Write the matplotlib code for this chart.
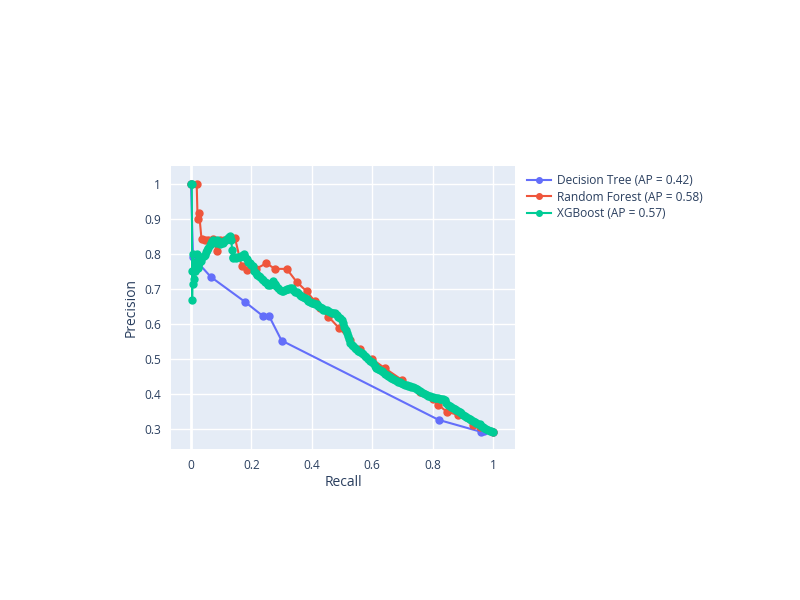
import matplotlib.pyplot as plt

# precision-recall curves
dt_recall = [0, 0.007, 0.066, 0.179, 0.238, 0.258, 0.30, 0.82, 0.96, 0.97, 1.0]
dt_precision = [1.0, 0.79, 0.734, 0.663, 0.623, 0.624, 0.553, 0.327, 0.293, 0.294, 0.293]

rf_recall = [0, 0.019, 0.022, 0.027, 0.035, 0.046, 0.055, 0.074, 0.085, 0.096, 0.11, 0.13,
             0.146, 0.168, 0.184, 0.217, 0.25, 0.278, 0.317, 0.35, 0.383, 0.41, 0.427, 0.455,
             0.491, 0.527, 0.56, 0.6, 0.642, 0.7, 0.76, 0.8, 0.819, 0.847, 0.885, 0.933,
             0.957, 1.0]
rf_precision = [1.0, 1.0, 0.9, 0.917, 0.842, 0.84, 0.838, 0.842, 0.808, 0.84, 0.84, 0.843,
                0.844, 0.764, 0.754, 0.758, 0.773, 0.757, 0.757, 0.72, 0.693, 0.665, 0.645,
                0.621, 0.588, 0.555, 0.53, 0.5, 0.474, 0.44, 0.405, 0.385, 0.37, 0.35, 0.341,
                0.313, 0.308, 0.293]

xgb_recall = [0, 0.003, 0.004, 0.005, 0.006, 0.008, 0.010, 0.012, 0.013, 0.015, 0.018, 0.020,
              0.022, 0.024, 0.027, 0.030, 0.034, 0.038, 0.042, 0.046, 0.050, 0.054, 0.057,
              0.062, 0.066, 0.070, 0.074, 0.078, 0.082, 0.086, 0.090, 0.095, 0.100, 0.104,
              0.107, 0.111, 0.115, 0.119, 0.123, 0.127, 0.131, 0.134, 0.136, 0.138, 0.140,
              0.145, 0.150, 0.156, 0.161, 0.166, 0.171, 0.176, 0.180, 0.185, 0.190, 0.195,
              0.200, 0.206, 0.210, 0.214, 0.218, 0.224, 0.230, 0.235, 0.240, 0.246, 0.251,
              0.256, 0.262, 0.267, 0.273, 0.278, 0.283, 0.289, 0.295, 0.300, 0.306, 0.311,
              0.317, 0.322, 0.328, 0.333, 0.339, 0.344, 0.350, 0.355, 0.361, 0.366, 0.372,
              0.378, 0.383, 0.389, 0.394, 0.400, 0.405, 0.411, 0.416, 0.422, 0.427, 0.433,
              0.438, 0.444, 0.449, 0.455, 0.460, 0.466, 0.471, 0.477, 0.482, 0.488, 0.493,
              0.499, 0.504, 0.508, 0.512, 0.516, 0.520, 0.524, 0.528, 0.532, 0.537, 0.543,
              0.548, 0.554, 0.559, 0.565, 0.570, 0.576, 0.581, 0.587, 0.592, 0.598, 0.603,
              0.609, 0.614, 0.620, 0.626, 0.631, 0.637, 0.642, 0.648, 0.653, 0.659, 0.664,
              0.670, 0.675, 0.681, 0.686, 0.692, 0.697, 0.703, 0.708, 0.714, 0.719, 0.725,
              0.730, 0.736, 0.741, 0.747, 0.752, 0.758, 0.763, 0.769, 0.774, 0.780, 0.785,
              0.791, 0.796, 0.802, 0.807, 0.813, 0.818, 0.824, 0.829, 0.835, 0.840, 0.846,
              0.851, 0.857, 0.862, 0.868, 0.873, 0.879, 0.884, 0.890, 0.895, 0.901, 0.906,
              0.912, 0.917, 0.923, 0.928, 0.934, 0.939, 0.945, 0.950, 0.956, 0.961, 0.967,
              0.972, 0.978, 0.983, 0.989, 0.994, 1.0]
xgb_precision = [1.0, 1.0, 0.667, 0.75, 0.8, 0.714, 0.727, 0.75, 0.769, 0.75, 0.778, 0.8,
                 0.762, 0.759, 0.773, 0.787, 0.78, 0.79, 0.794, 0.797, 0.806, 0.81, 0.816,
                 0.826, 0.83, 0.836, 0.84, 0.835, 0.832, 0.838, 0.835, 0.828, 0.83, 0.834,
                 0.83, 0.836, 0.84, 0.842, 0.845, 0.848, 0.852, 0.84, 0.81, 0.79, 0.787,
                 0.79, 0.788, 0.792, 0.79, 0.795, 0.797, 0.799, 0.792, 0.784, 0.778, 0.774,
                 0.768, 0.764, 0.752, 0.746, 0.74, 0.737, 0.733, 0.729, 0.726, 0.72, 0.716,
                 0.712, 0.711, 0.718, 0.723, 0.715, 0.708, 0.702, 0.697, 0.695, 0.693, 0.697,
                 0.699, 0.701, 0.703, 0.702, 0.697, 0.692, 0.69, 0.688, 0.684, 0.681, 0.678,
                 0.674, 0.67, 0.665, 0.662, 0.661, 0.659, 0.657, 0.656, 0.652, 0.649, 0.645,
                 0.641, 0.641, 0.64, 0.637, 0.634, 0.632, 0.631, 0.63, 0.626, 0.621, 0.617,
                 0.612, 0.602, 0.592, 0.583, 0.575, 0.566, 0.556, 0.545, 0.54, 0.536, 0.532,
                 0.528, 0.524, 0.52, 0.517, 0.514, 0.51, 0.507, 0.501, 0.496, 0.492, 0.488,
                 0.481, 0.475, 0.473, 0.47, 0.466, 0.463, 0.459, 0.456, 0.452, 0.449, 0.446,
                 0.443, 0.44, 0.438, 0.436, 0.434, 0.431, 0.429, 0.427, 0.425, 0.424, 0.423,
                 0.422, 0.421, 0.418, 0.415, 0.412, 0.409, 0.406, 0.403, 0.401, 0.398, 0.396,
                 0.394, 0.392, 0.391, 0.39, 0.389, 0.388, 0.387, 0.386, 0.386, 0.383, 0.376,
                 0.37, 0.366, 0.363, 0.361, 0.358, 0.355, 0.352, 0.349, 0.346, 0.342, 0.339,
                 0.336, 0.333, 0.33, 0.327, 0.324, 0.321, 0.318, 0.316, 0.314, 0.31, 0.307,
                 0.304, 0.301, 0.298, 0.296, 0.294, 0.293]

labels = ["Decision Tree (AP = 0.42)", "Random Forest (AP = 0.58)", "XGBoost (AP = 0.57)"]
colors = ["#636efa", "#EF553B", "#00cc96"]

xticks = [0, 0.2, 0.4, 0.6, 0.8, 1.0]
xticklabels = ["0", "0.2", "0.4", "0.6", "0.8", "1"]
yticks = [0.3, 0.4, 0.5, 0.6, 0.7, 0.8, 0.9, 1.0]
yticklabels = ["0.3", "0.4", "0.5", "0.6", "0.7", "0.8", "0.9", "1"]

plt.rcParams['font.family'] = ['Open Sans', 'DejaVu Sans']
text_col = "#2a3f5f"

fig = plt.figure(figsize=(8, 6), dpi=100)
ax = fig.add_axes([171 / 800, 1 - 449 / 600, 344 / 800, 283 / 600])
ax.set_facecolor("#E5ECF6")

series = [(dt_recall, dt_precision), (rf_recall, rf_precision), (xgb_recall, xgb_precision)]
for (r, p), lab, c in zip(series, labels, colors):
    ax.plot(r, p, color=c, lw=1.5, marker="o", ms=5, label=lab)

ax.set_xlim(-0.066, 1.073)
ax.set_ylim(0.244, 1.05)
ax.set_xticks(xticks)
ax.set_xticklabels(xticklabels)
ax.set_yticks(yticks)
ax.set_yticklabels(yticklabels)
ax.grid(color="white", lw=1)
ax.axvline(0, color="white", lw=2, zorder=1)
ax.set_axisbelow(True)
for s in ax.spines.values():
    s.set_visible(False)
ax.tick_params(length=0, colors=text_col, labelsize=8.6, pad=7)
ax.set_xlabel("Recall", color=text_col, fontsize=10, labelpad=2)
ax.set_ylabel("Precision", color=text_col, fontsize=10, labelpad=4)

leg = ax.legend(loc="upper left", bbox_to_anchor=(1.0, 1.015), frameon=False,
                fontsize=8.6, labelcolor=text_col, handlelength=2.0, handletextpad=0.5,
                borderaxespad=0.6, labelspacing=0.32, markerscale=0.8)

fig.savefig("out.png", dpi=100)
